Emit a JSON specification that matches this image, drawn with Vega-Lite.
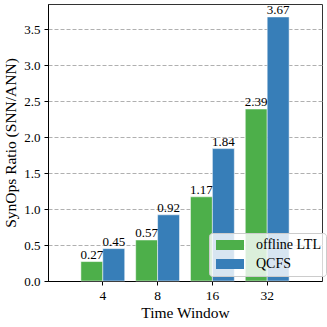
{
  "$schema": "https://vega.github.io/schema/vega-lite/v6.json",
  "width": 274,
  "height": 277,
  "autosize": "none",
  "padding": {"left": 48, "top": 4, "right": 5, "bottom": 46},
  "background": "white",
  "config": {
    "font": "Liberation Serif",
    "axis": {"labelFont": "Liberation Serif", "titleFont": "Liberation Serif"},
    "legend": {"labelFont": "Liberation Serif"},
    "text": {"font": "Liberation Serif"},
    "view": {"stroke": "#333", "strokeWidth": 1}
  },
  "data": {
    "values": [
      {"tw": 4, "method": "offline LTL", "ratio": 0.27},
      {"tw": 4, "method": "QCFS", "ratio": 0.45},
      {"tw": 8, "method": "offline LTL", "ratio": 0.57},
      {"tw": 8, "method": "QCFS", "ratio": 0.92},
      {"tw": 16, "method": "offline LTL", "ratio": 1.17},
      {"tw": 16, "method": "QCFS", "ratio": 1.84},
      {"tw": 32, "method": "offline LTL", "ratio": 2.39},
      {"tw": 32, "method": "QCFS", "ratio": 3.67}
    ]
  },
  "encoding": {
    "x": {
      "field": "tw",
      "type": "ordinal",
      "scale": {"paddingInner": 0.2, "paddingOuter": 0.6},
      "axis": {
        "title": "Time Window",
        "titleFont": "Liberation Serif",
        "titleFontSize": 15.5,
        "titleFontWeight": "normal",
        "titleColor": "black",
        "titlePadding": 4,
        "labelFont": "Liberation Serif",
        "labelFontSize": 13.5,
        "labelColor": "black",
        "labelAngle": 0,
        "labelPadding": 3,
        "domainColor": "black",
        "tickColor": "black",
        "tickSize": 4,
        "grid": false
      }
    },
    "xOffset": {
      "field": "method",
      "type": "nominal",
      "sort": ["offline LTL", "QCFS"],
      "scale": {"paddingInner": 0, "paddingOuter": 0}
    },
    "y": {
      "field": "ratio",
      "type": "quantitative",
      "scale": {"domain": [0, 3.85], "nice": false},
      "axis": {
        "title": "SynOps Ratio (SNN/ANN)",
        "titleFont": "Liberation Serif",
        "titleFontSize": 15.5,
        "titleFontWeight": "normal",
        "titleColor": "black",
        "titlePadding": 5,
        "values": [0, 0.5, 1, 1.5, 2, 2.5, 3, 3.5],
        "format": ".1f",
        "labelFont": "Liberation Serif",
        "labelFontSize": 13,
        "labelColor": "black",
        "labelPadding": 4,
        "domainColor": "black",
        "tickColor": "black",
        "tickSize": 4,
        "grid": true,
        "gridColor": "#b0b0b0",
        "gridDash": [4, 2],
        "gridWidth": 1
      }
    }
  },
  "layer": [
    {
      "mark": {"type": "bar", "stroke": "white", "strokeWidth": 0.5},
      "encoding": {
        "color": {
          "field": "method",
          "type": "nominal",
          "sort": ["offline LTL", "QCFS"],
          "scale": {"range": ["#4daf4a", "#377eb8"]},
          "legend": {
            "title": null,
            "orient": "none",
            "legendX": 161,
            "legendY": 229,
            "padding": 5,
            "fillColor": "rgba(255,255,255,0.8)",
            "strokeColor": "#cccccc",
            "cornerRadius": 3,
            "symbolType": "M-2.8,-1H2.8V1H-2.8Z",
            "symbolSize": 100,
            "symbolOffset": 9,
            "symbolStrokeWidth": 0,
            "labelFont": "Liberation Serif",
            "labelFontSize": 14,
            "labelColor": "black",
            "labelOffset": 19,
            "rowPadding": 5
          }
        }
      }
    },
    {
      "mark": {"type": "text", "baseline": "bottom", "dy": 0, "fontSize": 13, "color": "black", "font": "Liberation Serif"},
      "encoding": {
        "text": {"field": "ratio", "type": "quantitative", "format": ".2f"}
      }
    }
  ]
}
